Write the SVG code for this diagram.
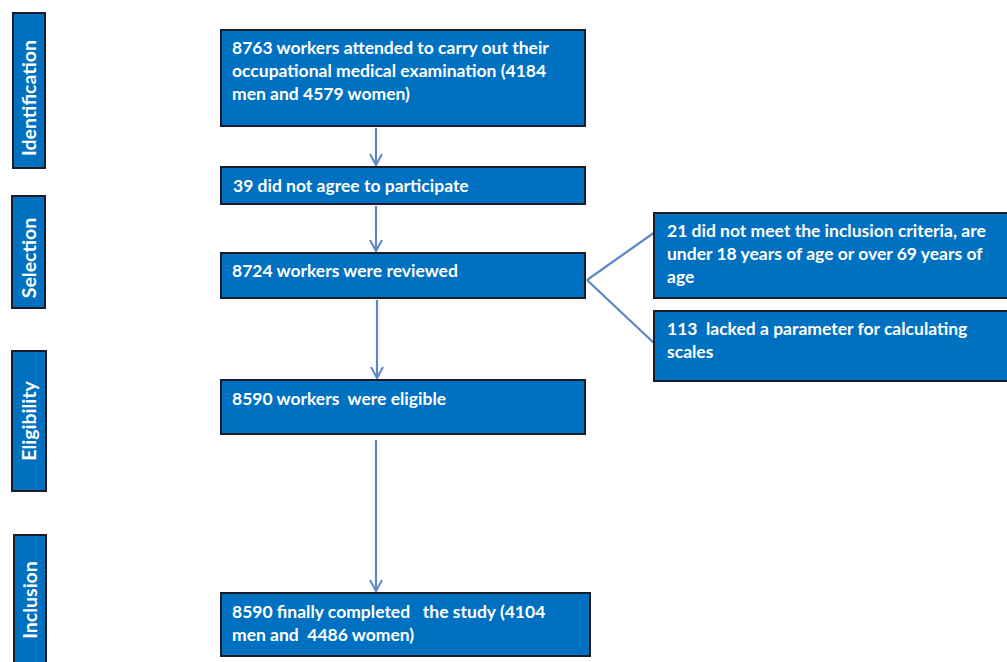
<svg xmlns="http://www.w3.org/2000/svg" width="1007" height="662" viewBox="0 0 1007 662">
<defs>
<style>
.box{fill:#0070c0;stroke:#1c1c28;stroke-width:2}
.t{fill:#fff;font-family:Lato,"Open Sans",sans-serif;font-weight:bold;font-size:17.5px}
.side{fill:#fff;font-family:Lato,"Open Sans",sans-serif;font-weight:bold;font-size:19.5px;text-anchor:middle}
.c{stroke:#5b87c6;stroke-width:2.2;fill:none}
</style>
<marker id="ah" viewBox="0 0 14 14" refX="12" refY="7" markerWidth="14" markerHeight="14" markerUnits="userSpaceOnUse" orient="auto">
<path d="M1,1 L12,7 L1,13" fill="none" stroke="#5b87c6" stroke-width="2"/>
</marker>
</defs>
<rect width="1007" height="662" fill="#fff"/>
<g id="phase-identification"><rect class="box" x="13" y="13" width="32" height="155"/><text class="side" transform="translate(36,98) rotate(-90)">Identification</text></g>
<g id="phase-selection"><rect class="box" x="12" y="196" width="33" height="112"/><text class="side" transform="translate(36,258) rotate(-90)">Selection</text></g>
<g id="phase-eligibility"><rect class="box" x="12" y="351" width="34" height="140"/><text class="side" transform="translate(36,421) rotate(-90)">Eligibility</text></g>
<g id="phase-inclusion"><rect class="box" x="14" y="535" width="32" height="130"/><text class="side" transform="translate(37,600) rotate(-90)">Inclusion</text></g>
<g id="connectors">
<line class="c" x1="376" y1="128" x2="376" y2="165" marker-end="url(#ah)"/>
<line class="c" x1="376" y1="206" x2="376" y2="251" marker-end="url(#ah)"/>
<line class="c" x1="377" y1="300" x2="377" y2="378" marker-end="url(#ah)"/>
<line class="c" x1="376" y1="440" x2="376" y2="591" marker-end="url(#ah)"/>
<line class="c" x1="587" y1="280" x2="655" y2="232"/>
<line class="c" x1="587" y1="280" x2="655" y2="344"/>
</g>
<g id="n1"><rect class="box" x="221" y="30" width="364" height="96"/><text class="t" x="232" y="54">8763 workers attended to carry out their</text><text class="t" x="232" y="77">occupational medical examination (4184</text><text class="t" x="232" y="100">men and 4579 women)</text></g>
<g id="n2"><rect class="box" x="221" y="167" width="364" height="37"/><text class="t" x="233" y="192">39 did not agree to participate</text></g>
<g id="n3"><rect class="box" x="221" y="253" width="364" height="45"/><text class="t" x="232" y="277">8724 workers were reviewed</text></g>
<g id="n4"><rect class="box" x="221" y="380" width="364" height="54"/><text class="t" x="232" y="405" xml:space="preserve">8590 workers  were eligible</text></g>
<g id="n5"><rect class="box" x="221" y="593" width="369" height="63"/><text class="t" x="232" y="618" xml:space="preserve">8590 finally completed   the study (4104</text><text class="t" x="232" y="641" xml:space="preserve">men and  4486 women)</text></g>
<g id="r1"><rect class="box" x="654" y="213" width="355" height="85"/><text class="t" x="667" y="237">21 did not meet the inclusion criteria, are</text><text class="t" x="667" y="260">under 18 years of age or over 69 years of</text><text class="t" x="667" y="283">age</text></g>
<g id="r2"><rect class="box" x="654" y="311" width="355" height="70"/><text class="t" x="667" y="335" xml:space="preserve">113  lacked a parameter for calculating</text><text class="t" x="667" y="358">scales</text></g>
</svg>
